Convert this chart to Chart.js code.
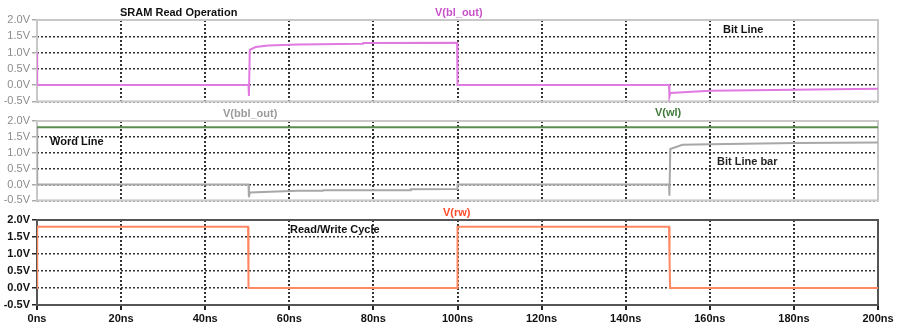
<!DOCTYPE html>
<html>
<head>
<meta charset="utf-8">
<script src="https://cdn.jsdelivr.net/npm/chart.js@4"></script>
<style>
  body { margin: 0; background: #fff; width: 898px; height: 329px; overflow: hidden; position: relative;
         font-family: "Liberation Sans", Arial, sans-serif; }
  canvas { position: absolute; left: 0; }
  .lbl { position: absolute; font-size: 11px; line-height: 12px; white-space: nowrap; }
  .b { font-weight: bold; color: #111; }
</style>
</head>
<body>
<canvas id="p1" width="898" height="110" style="top:0px"></canvas>
<canvas id="p2" width="898" height="104" style="top:105px"></canvas>
<canvas id="p3" width="898" height="124" style="top:205px"></canvas>

<div class="lbl b" style="left:120px;top:6px">SRAM Read Operation</div>
<div class="lbl b" style="left:435px;top:6px;color:#c850c8">V(bl_out)</div>
<div class="lbl b" style="left:723px;top:23px">Bit Line</div>
<div class="lbl b" style="left:223px;top:107px;color:#9a9a9a">V(bbl_out)</div>
<div class="lbl b" style="left:655px;top:106px;color:#3f7a3a">V(wl)</div>
<div class="lbl b" style="left:50px;top:135px">Word Line</div>
<div class="lbl b" style="left:717px;top:155px;color:#222">Bit Line bar</div>
<div class="lbl b" style="left:443px;top:206px;color:#ff4a2a">V(rw)</div>
<div class="lbl b" style="left:290px;top:223px">Read/Write Cycle</div>

<script>
// time axis in ns, voltages in V
const xTicks = [0, 20, 40, 60, 80, 100, 120, 140, 160, 180, 200];
const yTicks = [-0.5, 0.0, 0.5, 1.0, 1.5, 2.0];

const blTime = [0, 0.05, 50.3, 50.4, 50.6, 52, 55, 62, 77.5, 77.6, 99.9, 100, 150.3, 150.4, 150.6, 160, 200];
const blVolt = [1.0, 0, 0, -0.33, 1.08, 1.17, 1.22, 1.25, 1.27, 1.29, 1.30, 0, 0, -0.35, -0.24, -0.17, -0.11];

const bblTime = [0, 0.05, 50.3, 50.4, 50.6, 62, 68, 68.1, 88.8, 88.9, 99.9, 100, 150.3, 150.4, 150.6, 153.5, 160, 180.5, 200];
const bblVolt = [1.8, 0, 0, -0.4, -0.25, -0.2, -0.2, -0.18, -0.18, -0.15, -0.14, 0, 0, -0.35, 1.12, 1.25, 1.27, 1.31, 1.32];

const wlTime = [0, 200];
const wlVolt = [1.8, 1.8];

const rwTime = [0, 0.05, 50.2, 50.3, 99.9, 100, 150.3, 150.35, 150.5, 150.55, 200];
const rwVolt = [0, 1.8, 1.8, 0, 0, 1.8, 1.8, 0.88, 0.88, 0, 0];

const FONT = "'Liberation Sans', Arial, sans-serif";

function points(times, volts) {
  return times.map((t, i) => ({ x: t, y: volts[i] }));
}

function series(times, volts, color) {
  return {
    data: points(times, volts),
    borderColor: color,
    borderWidth: 2,
    pointRadius: 0,
    tension: 0,
    fill: false,
  };
}

// frame around the plot area, drawn under the traces
const framePlugin = {
  id: "frame",
  beforeDatasetsDraw(chart, args, opts) {
    const a = chart.chartArea;
    const ctx = chart.ctx;
    ctx.save();
    ctx.strokeStyle = opts.color;
    ctx.lineWidth = 2;
    ctx.strokeRect(a.left, a.top, a.right - a.left, a.bottom - a.top);
    ctx.restore();
  },
};

function makePanel(id, datasets, opts) {
  const dark = opts.dark;
  new Chart(document.getElementById(id), {
    type: "line",
    data: { datasets },
    options: {
      responsive: false,
      animation: false,
      layout: { padding: { top: opts.top, bottom: opts.bottom, left: 0, right: 20 } },
      plugins: { legend: { display: false }, tooltip: { enabled: false }, frame: { color: dark ? "#555" : "#c8c8c8" } },
      scales: {
        x: {
          type: "linear",
          min: 0,
          max: 200,
          afterBuildTicks: (s) => { s.ticks = xTicks.map((v) => ({ value: v })); },
          afterFit: (s) => { s.height = opts.showX ? 24 : 0; },
          grid: {
            color: "#333",
            lineWidth: 2,
            drawTicks: opts.showX,
            tickLength: 5,
            tickColor: "#222",
            tickWidth: 2,
            tickBorderDash: [],
          },
          border: { display: false, dash: [2, 2] },
          ticks: {
            display: opts.showX,
            autoSkip: false,
            maxRotation: 0,
            padding: 2,
            color: "#111",
            font: { family: FONT, size: 11, weight: "bold" },
            callback: (v) => v + "ns",
          },
        },
        y: {
          min: -0.5,
          max: 2.0,
          afterBuildTicks: (s) => { s.ticks = yTicks.map((v) => ({ value: v })); },
          afterFit: (s) => { s.width = 37; },
          grid: {
            color: "#333",
            lineWidth: 1.5,
            tickLength: 5,
            tickColor: dark ? "#222" : "#aaa",
            tickWidth: 1.5,
            tickBorderDash: [],
          },
          border: { display: false, dash: [2, 2] },
          ticks: {
            padding: 2,
            color: dark ? "#111" : "#8c8c8c",
            font: { family: FONT, size: 11, weight: dark ? "bold" : "normal" },
            callback: (v) => v.toFixed(1) + "V",
          },
        },
      },
    },
    plugins: [framePlugin],
  });
}

makePanel("p1", [series(blTime, blVolt, "#e07ae0")], { top: 20, bottom: 6, showX: false, dark: false });
makePanel("p2", [series(wlTime, wlVolt, "#5a8c50"), series(bblTime, bblVolt, "#a8a8a8")], { top: 16, bottom: 1, showX: false, dark: false });
makePanel("p3", [series(rwTime, rwVolt, "#ff8862")], { top: 15, bottom: 0, showX: true, dark: true });
</script>
</body>
</html>
